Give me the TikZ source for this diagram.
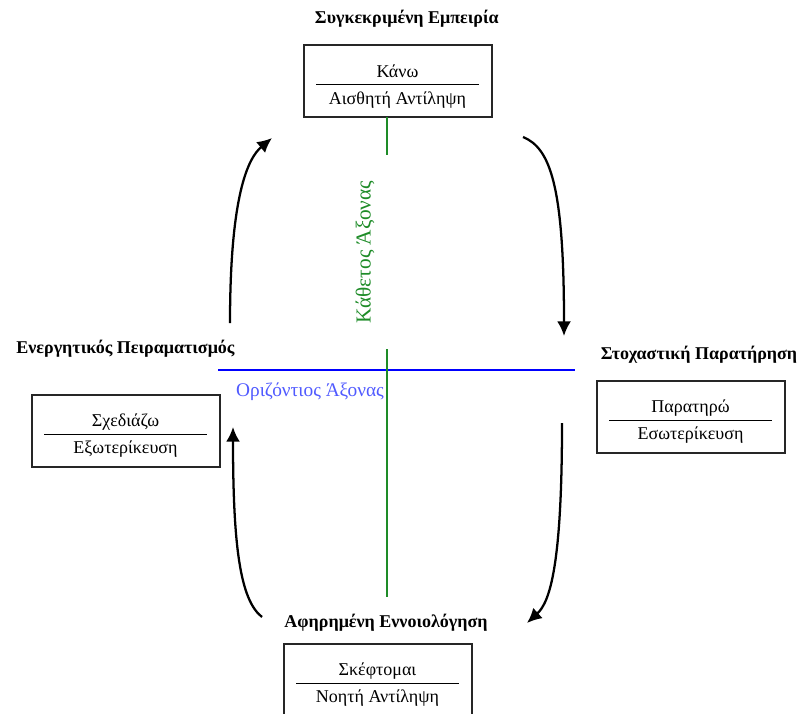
\documentclass[tikz,border=0pt]{standalone}
\usepackage{fontspec}
\setmainfont{Liberation Serif}
\usepackage{xcolor}
\usetikzlibrary{arrows.meta, positioning}

\definecolor{axisgreen}{RGB}{30,140,40}
\definecolor{labelblue}{RGB}{80,90,255}

\newcommand{\stagetext}[2]{\rule{0pt}{17.5pt}#1\\[-9pt]\rule{122pt}{0.75pt}\\[-0.5pt]#2}

\begin{document}
\begin{tikzpicture}[x=0.75pt, y=-0.75pt,
        stage/.style={rectangle, draw=black!85, line width=1.5pt, minimum width=141pt, minimum height=54pt, align=center, inner sep=0pt, font=\fontsize{13.5}{15}\selectfont},
        heading/.style={font=\bfseries\fontsize{13.5}{15}\selectfont, inner sep=2pt},
        cycle/.style={draw, -{Latex[length=11pt, width=10.5pt]}, line width=1.7pt},
        axis/.style={draw, line width=1pt}]

        \useasboundingbox (0,0) rectangle (805,713);

        % Nodes
        \node [stage] (experience) at (397.5,81) {\stagetext{Κάνω}{Αισθητή Αντίληψη}};
        \node [stage] (experiment) at (125.5,430.5) {\stagetext{Σχεδιάζω}{Εξωτερίκευση}};
        \node [stage] (observation) at (690.5,416.5) {\stagetext{Παρατηρώ}{Εσωτερίκευση}};
        \node [stage] (concept) at (377.5,679.5) {\stagetext{Σκέφτομαι}{Νοητή Αντίληψη}};

        \node [heading, above=10pt of experience, xshift=7pt] (experience-title) {Συγκεκριμένη Εμπειρία};
        \node [heading, above=25pt of experiment] (experiment-title) {Ενεργητικός Πειραματισμός};
        \node [heading, above=10pt of observation, xshift=6.4pt] (observation-title) {Στοχαστική Παρατήρηση};
        \node [heading, above=6pt of concept, xshift=6.4pt] (concept-title) {Αφηρημένη Εννοιολόγηση};

        % Axes
        \coordinate (vtop) at (387,117);
        \coordinate (vbot) at (387,597);
        \coordinate (hleft) at (218,370);
        \coordinate (hright) at (575,370);
        \path [axis, blue] (hleft) -- (hright);
        \path [axis, axisgreen] (vtop) -- (vbot);
        \node [rotate=90, fill=white, text=axisgreen, minimum width=146pt, minimum height=37pt, font=\fontsize{16}{18}\selectfont] (vlabel) at (365,252) {Κάθετος Άξονας};
        \node [text=labelblue, font=\fontsize{14.5}{16}\selectfont] (hlabel) at (310,392) {Οριζόντιος Άξονας};

        % Edges
        \coordinate (a1s) at (230,323);
        \coordinate (a1e) at (272,138);
        \coordinate (a2s) at (523,137);
        \coordinate (a2e) at (564,336);
        \coordinate (a3s) at (562,423);
        \coordinate (a3e) at (527,623);
        \coordinate (a4s) at (262,617);
        \coordinate (a4e) at (233,427);
        \path [cycle] (a1s) .. controls (230,195) and (248,158) .. (a1e);
        \path [cycle] (a2s) .. controls (550,148) and (564,185) .. (a2e);
        \path [cycle] (a3s) .. controls (562,565) and (550,602) .. (a3e);
        \path [cycle] (a4s) .. controls (240,600) and (233,545) .. (a4e);

    \end{tikzpicture}
\end{document}
